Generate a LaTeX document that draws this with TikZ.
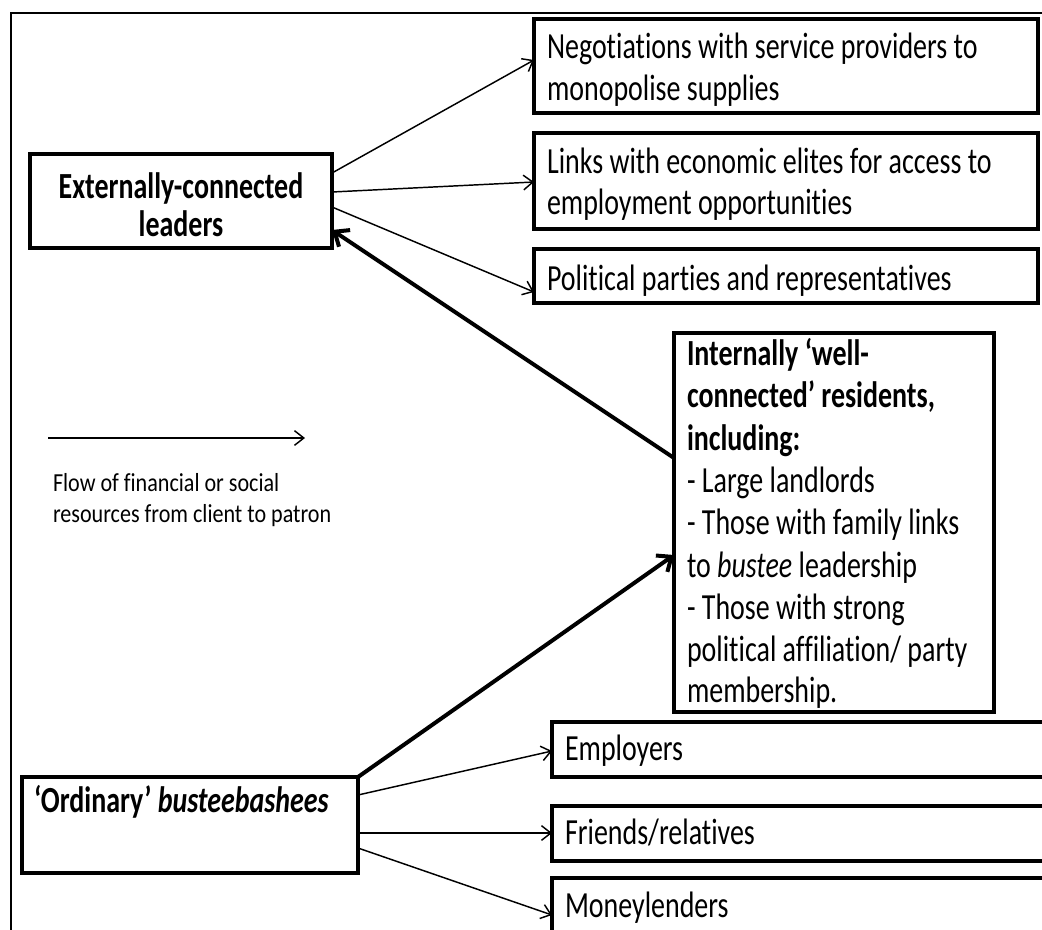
\documentclass[tikz,border=0pt]{standalone}
\usepackage{fontspec}
\setmainfont{Carlito}[FakeStretch=0.76,Ligatures=NoCommon]
\newfontfamily\legendfont{Carlito}[FakeStretch=0.85,Ligatures=NoCommon]
\usetikzlibrary{arrows.meta}
\begin{document}
\begin{tikzpicture}[x=0.75pt,y=-0.75pt,
  box/.style={draw, line width=2.3pt, inner sep=0pt, outer sep=0pt, anchor=north west},
  txt/.style={anchor=base west, inner sep=0pt, outer sep=0pt, font=\fontsize{27.6pt}{32pt}\selectfont},
  btxt/.style={anchor=base west, inner sep=0pt, outer sep=0pt, font=\fontsize{27.6pt}{32pt}\selectfont\bfseries},
  ltxt/.style={anchor=base west, inner sep=0pt, outer sep=0pt, font=\legendfont\fontsize{19.5pt}{23pt}\selectfont},
  thinarr/.style={line width=1.1pt, -{Straight Barb[length=7pt,width=11pt]}},
  thickarr/.style={line width=3pt, -{Straight Barb[length=9pt,width=15pt]}},
  frame/.style={line width=1.5pt}
]
\useasboundingbox[fill=white] (0,0) rectangle (1042,929);
\clip (0,0) rectangle (1042,929);
% outer frame (clipped at right and bottom)
\draw[frame] (11,1000) -- (11,13) -- (1100,13);

% boxes
\node[box, minimum width=226.5pt, minimum height=70.5pt] (ext) at (30,154) {};
\node[box, minimum width=378pt, minimum height=70.5pt] (b1) at (534,19) {};
\node[box, minimum width=378pt, minimum height=72pt] (b2) at (534,133) {};
\node[box, minimum width=378pt, minimum height=40.5pt] (b3) at (534,249) {};
\node[box, minimum width=240pt, minimum height=284.25pt] (inb) at (674,333) {};
\node[box, minimum width=390pt, minimum height=41.25pt] (emp) at (552,722) {};
\node[box, minimum width=390pt, minimum height=41.25pt] (fri) at (552,806) {};
\node[box, minimum width=390pt, minimum height=60pt] (mon) at (552,878) {};
\node[box, minimum width=252pt, minimum height=72pt] (ord) at (22,777) {};

% texts
\node[btxt, anchor=base] (ext1) at (181,198) {Externally-connected};
\node[btxt, anchor=base] (ext2) at (181,236) {leaders};
\node[txt] (b1a) at (547,58) {Negotiations with service providers to};
\node[txt] (b1b) at (547,100) {monopolise supplies};
\node[txt] (b2a) at (547,173) {Links with economic elites for access to};
\node[txt] (b2b) at (547,214) {employment opportunities};
\node[txt] (b3a) at (547,290) {Political parties and representatives};
\node[btxt] (in1) at (687,365) {Internally ‘well-};
\node[btxt] (in2) at (687,407) {connected’ residents,};
\node[btxt] (in3) at (687,450) {including:};
\node[txt] (in4) at (687,492) {- Large landlords};
\node[txt] (in5) at (687,534) {- Those with family links};
\node[txt] (in6) at (687,577) {to \textit{bustee} leadership};
\node[txt] (in7) at (687,619) {- Those with strong};
\node[txt] (in8) at (687,661) {political affiliation/ party};
\node[txt] (in9) at (687,702) {membership.};
\node[txt] (empt) at (565,760) {Employers};
\node[txt] (frit) at (565,844) {Friends/relatives};
\node[txt] (mont) at (565,917) {Moneylenders};
\node[btxt] (ordt) at (34,812) {‘Ordinary’ \textit{busteebashees}};
\node[ltxt] (leg1) at (53,491) {Flow of financial or social};
\node[ltxt] (leg2) at (53,522) {resources from client to patron};

% legend arrow
\coordinate (legA) at (48,438);
\coordinate (legB) at (305,438);
\draw[thinarr] (legA) -- (legB);

% connectors from externally-connected leaders
\draw[thinarr] (ext.east |- 0,173) -- (b1.west |- 0,60);
\draw[thinarr] (ext.east |- 0,192) -- (b2.west |- 0,182);
\draw[thinarr] (ext.east |- 0,207) -- (b3.west |- 0,292);

% thick arrows
\draw[thickarr] (inb.west |- 0,458) -- (ext.east |- 0,230);
\draw[thickarr] (ord.north east) -- (inb.west |- 0,555);

% connectors from ordinary busteebashees
\draw[thinarr] (ord.east |- 0,795) -- (emp.west |- 0,751);
\draw[thinarr] (ord.east |- 0,833) -- (fri.west |- 0,833);
\draw[thinarr] (ord.east |- 0,848) -- (mon.west |- 0,915);
\end{tikzpicture}
\end{document}
